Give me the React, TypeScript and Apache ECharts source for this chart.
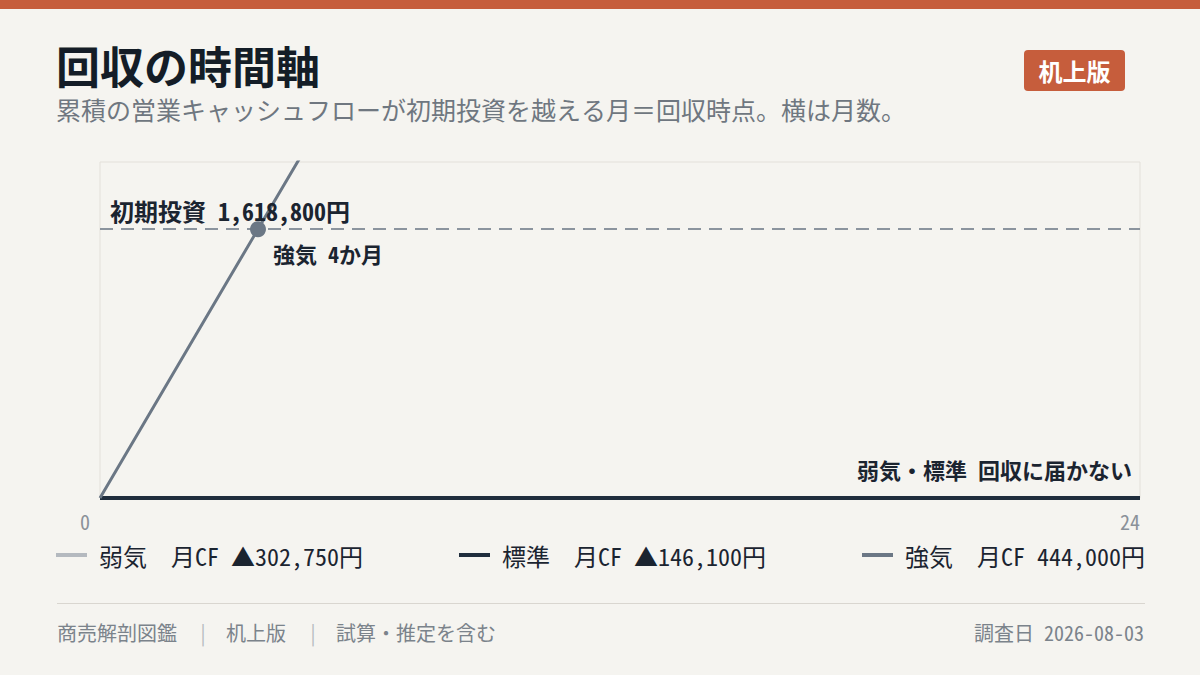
import React, { useEffect, useRef } from "react";
import * as echarts from "echarts";

const months = [0, 1, 2, 3, 4, 5, 6, 7, 8, 9, 10, 11, 12, 13, 14, 15, 16, 17, 18, 19, 20, 21, 22, 23, 24];
const seriesNames = ["弱気", "標準", "強気"];
const monthlyCF = [-302750, -146100, 444000];
const initialInvestment = 1618800;
// cumulative operating cash flow shown on chart (negative scenarios stay at 0 on the shown scale)
const weakCumulative = [0, 0, 0, 0, 0, 0, 0, 0, 0, 0, 0, 0, 0, 0, 0, 0, 0, 0, 0, 0, 0, 0, 0, 0, 0];
const standardCumulative = [0, 0, 0, 0, 0, 0, 0, 0, 0, 0, 0, 0, 0, 0, 0, 0, 0, 0, 0, 0, 0, 0, 0, 0, 0];
const strongCumulative = [
  0, 444000, 888000, 1332000, 1776000, 2220000, 2664000, 3108000, 3552000, 3996000, 4440000, 4884000,
  5328000, 5772000, 6216000, 6660000, 7104000, 7548000, 7992000, 8436000, 8880000, 9324000, 9768000,
  10212000, 10656000,
];
const xTickLabels = ["0", "24"];

const FONT = "'Noto Sans Mono CJK JP', 'Noto Sans CJK JP', 'Noto Sans', sans-serif";
const BG = "#f5f4f0";
const ACCENT = "#c65d3c";
const INK = "#1b2430";
const COLORS = ["#b4b9bf", "#1f2d3d", "#6b7785"];

const fmt = (v: number) => Math.abs(v).toLocaleString("en-US");

export default function App() {
  const ref = useRef<HTMLDivElement>(null);

  useEffect(() => {
    if (!ref.current) return;
    const chart = echarts.init(ref.current, null, { renderer: "svg" });

    const pair = (arr: number[]) => months.map((m, i) => [m, arr[i]]);
    const paybackMonths = initialInvestment / monthlyCF[2];
    const legendLefts = [56, 459, 862];

    const legends = seriesNames.map((name, i) => ({
      data: [name],
      left: legendLefts[i],
      top: 543,
      padding: 0,
      icon: "rect",
      itemWidth: 31,
      itemHeight: 4,
      selectedMode: false,
      textStyle: {
        fontFamily: FONT,
        fontSize: 24,
        color: INK,
        padding: [0, 0, 0, 7],
      },
      formatter: (n: string) => {
        const v = monthlyCF[seriesNames.indexOf(n)];
        return `${n}　月CF ${v < 0 ? "▲" : ""}${fmt(v)}円`;
      },
    }));

    chart.setOption({
      animation: false,
      backgroundColor: BG,
      textStyle: { fontFamily: FONT },
      title: {
        text: "回収の時間軸",
        subtext: "累積の営業キャッシュフローが初期投資を越える月＝回収時点。横は月数。",
        left: 56,
        top: 43,
        padding: 0,
        itemGap: 10,
        textStyle: { fontFamily: FONT, fontSize: 44, fontWeight: "bold", color: "#141d27" },
        subtextStyle: { fontFamily: FONT, fontSize: 25, color: "#6f7780" },
      },
      legend: legends,
      grid: {
        left: 100,
        right: 60,
        top: 162,
        bottom: 177,
        show: true,
        borderColor: "#e3e0da",
        borderWidth: 1,
        backgroundColor: "transparent",
      },
      xAxis: {
        type: "value",
        min: 0,
        max: 24,
        interval: 24,
        axisLine: { show: false },
        axisTick: { show: false },
        splitLine: { show: false },
        axisLabel: {
          margin: 13,
          fontFamily: FONT,
          fontSize: 20,
          color: "#8a9199",
          formatter: (v: number) => (v === 0 ? `{a|${xTickLabels[0]}}` : `{b|${xTickLabels[1]}}`),
          rich: {
            a: { fontFamily: FONT, fontSize: 20, color: "#8a9199", padding: [0, 10, 0, 0] },
            b: { fontFamily: FONT, fontSize: 20, color: "#8a9199" },
          },
          alignMinLabel: "right",
          alignMaxLabel: "right",
        },
      },
      yAxis: {
        type: "value",
        min: 0,
        max: initialInvestment * 1.25,
        show: false,
        splitLine: { show: false },
      },
      series: [
        {
          name: seriesNames[0],
          type: "line",
          data: pair(weakCumulative),
          showSymbol: false,
          color: COLORS[0],
          lineStyle: { width: 4, color: COLORS[0] },
          z: 2,
        },
        {
          name: seriesNames[1],
          type: "line",
          data: pair(standardCumulative),
          showSymbol: false,
          color: COLORS[1],
          lineStyle: { width: 4, color: COLORS[1] },
          z: 3,
          markPoint: {
            symbol: "circle",
            symbolSize: 0,
            itemStyle: { color: "transparent" },
            data: [
              {
                coord: [months[months.length - 1], 0],
                label: {
                  show: true,
                  position: "left",
                  offset: [-3, -29],
                  formatter: `${seriesNames[0]}・${seriesNames[1]} 回収に届かない`,
                  fontFamily: FONT,
                  fontSize: 22,
                  fontWeight: "bold",
                  color: INK,
                },
              },
            ],
          },
        },
        {
          name: seriesNames[2],
          type: "line",
          data: pair(strongCumulative),
          showSymbol: false,
          color: COLORS[2],
          lineStyle: { width: 3, color: COLORS[2] },
          z: 4,
          markLine: {
            silent: true,
            symbol: "none",
            lineStyle: { type: [13, 8], color: "#8b949e", width: 2 },
            label: {
              show: true,
              position: "insideStartTop",
              distance: [10, 7],
              formatter: `初期投資 ${fmt(initialInvestment)}円`,
              fontFamily: FONT,
              fontSize: 24,
              fontWeight: "bold",
              color: INK,
            },
            data: [{ yAxis: initialInvestment }],
          },
        },
        {
          name: "回収点",
          type: "scatter",
          data: [[paybackMonths, initialInvestment]],
          symbol: "circle",
          symbolSize: 16,
          itemStyle: { color: COLORS[2], opacity: 1 },
          z: 5,
          label: {
            show: true,
            position: "right",
            offset: [2, 24],
            formatter: `${seriesNames[2]} ${Math.ceil(paybackMonths)}か月`,
            fontFamily: FONT,
            fontSize: 22,
            fontWeight: "bold",
            color: INK,
          },
        },
      ],
      graphic: [
        { type: "rect", left: 0, top: 0, shape: { width: 1200, height: 9 }, style: { fill: ACCENT } },
        {
          type: "group",
          left: 1024,
          top: 50,
          children: [
            { type: "rect", shape: { x: 0, y: 0, width: 101, height: 41, r: 4 }, style: { fill: ACCENT } },
            {
              type: "text",
              x: 50.5,
              y: 20.5,
              style: {
                text: "机上版",
                fill: "#ffffff",
                fontFamily: FONT,
                fontSize: 24,
                fontWeight: "bold",
                align: "center",
                verticalAlign: "middle",
              },
            },
          ],
        },
        {
          type: "line",
          shape: { x1: 57, y1: 603.5, x2: 1145, y2: 603.5 },
          style: { stroke: "#d9d6d0", lineWidth: 1 },
        },
        {
          type: "text",
          x: 57,
          y: 632,
          style: { text: "商売解剖図鑑", fill: "#7b838b", fontFamily: FONT, fontSize: 20, verticalAlign: "middle" },
        },
        {
          type: "text",
          x: 198,
          y: 632,
          style: { text: "|", fill: "#b7bbc0", fontFamily: FONT, fontSize: 20, verticalAlign: "middle" },
        },
        {
          type: "text",
          x: 226,
          y: 632,
          style: { text: "机上版", fill: "#7b838b", fontFamily: FONT, fontSize: 20, verticalAlign: "middle" },
        },
        {
          type: "text",
          x: 308,
          y: 632,
          style: { text: "|", fill: "#b7bbc0", fontFamily: FONT, fontSize: 20, verticalAlign: "middle" },
        },
        {
          type: "text",
          x: 336,
          y: 632,
          style: { text: "試算・推定を含む", fill: "#7b838b", fontFamily: FONT, fontSize: 20, verticalAlign: "middle" },
        },
        {
          type: "text",
          x: 1144,
          y: 632,
          style: {
            text: "調査日 2026-08-03",
            fill: "#7b838b",
            fontFamily: FONT,
            fontSize: 20,
            align: "right",
            verticalAlign: "middle",
          },
        },
      ],
    });

    return () => chart.dispose();
  }, []);

  return (
    <div
      ref={ref}
      style={{ position: "fixed", left: 0, top: 0, width: 1200, height: 675 }}
    />
  );
}
